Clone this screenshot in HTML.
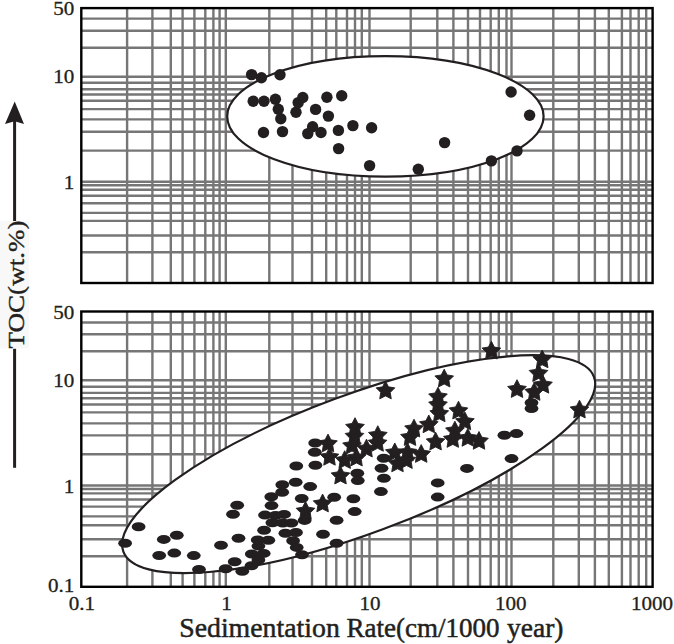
<!DOCTYPE html>
<html><head><meta charset="utf-8"><style>
html,body{margin:0;padding:0;background:#fff;}
body{width:674px;height:644px;overflow:hidden;position:relative;}
svg{position:absolute;left:0;top:0;}
.t{font-family:"Liberation Serif",serif;font-size:19.7px;fill:#231f20;stroke:#231f20;stroke-width:0.3px;}
.xt{font-family:"Liberation Serif",serif;font-size:27.5px;fill:#231f20;}
</style></head><body>
<svg width="674" height="644" viewBox="0 0 674 644">
<rect width="674" height="644" fill="#fff"/>
<g stroke="#767676" stroke-width="2.4"><line x1="127.1" y1="8.1" x2="127.1" y2="283"/><line x1="152.4" y1="8.1" x2="152.4" y2="283"/><line x1="170.8" y1="8.1" x2="170.8" y2="283"/><line x1="182.6" y1="8.1" x2="182.6" y2="283"/><line x1="194.4" y1="8.1" x2="194.4" y2="283"/><line x1="205.3" y1="8.1" x2="205.3" y2="283"/><line x1="213.4" y1="8.1" x2="213.4" y2="283"/><line x1="219.6" y1="8.1" x2="219.6" y2="283"/><line x1="225.8" y1="8.1" x2="225.8" y2="283"/><line x1="269.3" y1="8.1" x2="269.3" y2="283"/><line x1="292.5" y1="8.1" x2="292.5" y2="283"/><line x1="312" y1="8.1" x2="312" y2="283"/><line x1="326.2" y1="8.1" x2="326.2" y2="283"/><line x1="336.3" y1="8.1" x2="336.3" y2="283"/><line x1="347" y1="8.1" x2="347" y2="283"/><line x1="355" y1="8.1" x2="355" y2="283"/><line x1="361.8" y1="8.1" x2="361.8" y2="283"/><line x1="369.5" y1="8.1" x2="369.5" y2="283"/><line x1="410.7" y1="8.1" x2="410.7" y2="283"/><line x1="437.3" y1="8.1" x2="437.3" y2="283"/><line x1="453.4" y1="8.1" x2="453.4" y2="283"/><line x1="468" y1="8.1" x2="468" y2="283"/><line x1="480" y1="8.1" x2="480" y2="283"/><line x1="490.7" y1="8.1" x2="490.7" y2="283"/><line x1="498.8" y1="8.1" x2="498.8" y2="283"/><line x1="506.5" y1="8.1" x2="506.5" y2="283"/><line x1="511.5" y1="8.1" x2="511.5" y2="283"/><line x1="553.3" y1="8.1" x2="553.3" y2="283"/><line x1="578.8" y1="8.1" x2="578.8" y2="283"/><line x1="594.9" y1="8.1" x2="594.9" y2="283"/><line x1="608.8" y1="8.1" x2="608.8" y2="283"/><line x1="621.9" y1="8.1" x2="621.9" y2="283"/><line x1="630.5" y1="8.1" x2="630.5" y2="283"/><line x1="638.7" y1="8.1" x2="638.7" y2="283"/><line x1="646.2" y1="8.1" x2="646.2" y2="283"/><line x1="81.3" y1="18.6" x2="652.6" y2="18.6"/><line x1="81.3" y1="30.8" x2="652.6" y2="30.8"/><line x1="81.3" y1="47.7" x2="652.6" y2="47.7"/><line x1="81.3" y1="76.8" x2="652.6" y2="76.8"/><line x1="81.3" y1="82.8" x2="652.6" y2="82.8"/><line x1="81.3" y1="89.3" x2="652.6" y2="89.3"/><line x1="81.3" y1="94.5" x2="652.6" y2="94.5"/><line x1="81.3" y1="100.8" x2="652.6" y2="100.8"/><line x1="81.3" y1="109.1" x2="652.6" y2="109.1"/><line x1="81.3" y1="119.4" x2="652.6" y2="119.4"/><line x1="81.3" y1="131.7" x2="652.6" y2="131.7"/><line x1="81.3" y1="150.6" x2="652.6" y2="150.6"/><line x1="81.3" y1="181.8" x2="652.6" y2="181.8"/><line x1="81.3" y1="185.3" x2="652.6" y2="185.3"/><line x1="81.3" y1="189.8" x2="652.6" y2="189.8"/><line x1="81.3" y1="195.8" x2="652.6" y2="195.8"/><line x1="81.3" y1="203.2" x2="652.6" y2="203.2"/><line x1="81.3" y1="212.9" x2="652.6" y2="212.9"/><line x1="81.3" y1="220.9" x2="652.6" y2="220.9"/><line x1="81.3" y1="235.5" x2="652.6" y2="235.5"/><line x1="81.3" y1="252.2" x2="652.6" y2="252.2"/></g><g stroke="#767676" stroke-width="2.4"><line x1="127.1" y1="311.5" x2="127.1" y2="586.8"/><line x1="152.4" y1="311.5" x2="152.4" y2="586.8"/><line x1="170.8" y1="311.5" x2="170.8" y2="586.8"/><line x1="182.6" y1="311.5" x2="182.6" y2="586.8"/><line x1="194.4" y1="311.5" x2="194.4" y2="586.8"/><line x1="205.3" y1="311.5" x2="205.3" y2="586.8"/><line x1="213.4" y1="311.5" x2="213.4" y2="586.8"/><line x1="219.6" y1="311.5" x2="219.6" y2="586.8"/><line x1="225.8" y1="311.5" x2="225.8" y2="586.8"/><line x1="269.3" y1="311.5" x2="269.3" y2="586.8"/><line x1="292.5" y1="311.5" x2="292.5" y2="586.8"/><line x1="312" y1="311.5" x2="312" y2="586.8"/><line x1="326.2" y1="311.5" x2="326.2" y2="586.8"/><line x1="336.3" y1="311.5" x2="336.3" y2="586.8"/><line x1="347" y1="311.5" x2="347" y2="586.8"/><line x1="355" y1="311.5" x2="355" y2="586.8"/><line x1="361.8" y1="311.5" x2="361.8" y2="586.8"/><line x1="369.5" y1="311.5" x2="369.5" y2="586.8"/><line x1="410.7" y1="311.5" x2="410.7" y2="586.8"/><line x1="437.3" y1="311.5" x2="437.3" y2="586.8"/><line x1="453.4" y1="311.5" x2="453.4" y2="586.8"/><line x1="468" y1="311.5" x2="468" y2="586.8"/><line x1="480" y1="311.5" x2="480" y2="586.8"/><line x1="490.7" y1="311.5" x2="490.7" y2="586.8"/><line x1="498.8" y1="311.5" x2="498.8" y2="586.8"/><line x1="506.5" y1="311.5" x2="506.5" y2="586.8"/><line x1="511.5" y1="311.5" x2="511.5" y2="586.8"/><line x1="553.3" y1="311.5" x2="553.3" y2="586.8"/><line x1="578.8" y1="311.5" x2="578.8" y2="586.8"/><line x1="594.9" y1="311.5" x2="594.9" y2="586.8"/><line x1="608.8" y1="311.5" x2="608.8" y2="586.8"/><line x1="621.9" y1="311.5" x2="621.9" y2="586.8"/><line x1="630.5" y1="311.5" x2="630.5" y2="586.8"/><line x1="638.7" y1="311.5" x2="638.7" y2="586.8"/><line x1="646.2" y1="311.5" x2="646.2" y2="586.8"/><line x1="81.3" y1="322.5" x2="652.6" y2="322.5"/><line x1="81.3" y1="334.3" x2="652.6" y2="334.3"/><line x1="81.3" y1="351.2" x2="652.6" y2="351.2"/><line x1="81.3" y1="380.2" x2="652.6" y2="380.2"/><line x1="81.3" y1="386.7" x2="652.6" y2="386.7"/><line x1="81.3" y1="392.9" x2="652.6" y2="392.9"/><line x1="81.3" y1="398.3" x2="652.6" y2="398.3"/><line x1="81.3" y1="404.5" x2="652.6" y2="404.5"/><line x1="81.3" y1="412.4" x2="652.6" y2="412.4"/><line x1="81.3" y1="423.4" x2="652.6" y2="423.4"/><line x1="81.3" y1="435.4" x2="652.6" y2="435.4"/><line x1="81.3" y1="454.2" x2="652.6" y2="454.2"/><line x1="81.3" y1="485.5" x2="652.6" y2="485.5"/><line x1="81.3" y1="489" x2="652.6" y2="489"/><line x1="81.3" y1="493.4" x2="652.6" y2="493.4"/><line x1="81.3" y1="499.5" x2="652.6" y2="499.5"/><line x1="81.3" y1="506.6" x2="652.6" y2="506.6"/><line x1="81.3" y1="516.4" x2="652.6" y2="516.4"/><line x1="81.3" y1="525.2" x2="652.6" y2="525.2"/><line x1="81.3" y1="539.2" x2="652.6" y2="539.2"/><line x1="81.3" y1="556.2" x2="652.6" y2="556.2"/></g><ellipse cx="385.4" cy="116.4" rx="158.2" ry="60.2" fill="#fff" stroke="#231f20" stroke-width="2.2"/><ellipse cx="0" cy="0" rx="251" ry="69.45" fill="#fff" stroke="#231f20" stroke-width="2.2" transform="translate(358.66 464.19) rotate(-20.37)"/><rect x="81.3" y="8.1" width="571.3" height="274.9" fill="none" stroke="#000" stroke-width="2.4"/><rect x="81.3" y="311.5" width="571.3" height="275.3" fill="none" stroke="#000" stroke-width="2.4"/><g fill="#231f20"><circle cx="251.6" cy="74.6" r="5.7"/><circle cx="261.4" cy="77.7" r="5.7"/><circle cx="280.0" cy="74.7" r="5.7"/><circle cx="253.2" cy="101.2" r="5.7"/><circle cx="264.0" cy="101.2" r="5.7"/><circle cx="275.4" cy="99.3" r="5.7"/><circle cx="278.3" cy="109.2" r="5.7"/><circle cx="280.8" cy="118.8" r="5.7"/><circle cx="263.5" cy="132.5" r="5.7"/><circle cx="282.5" cy="131.6" r="5.7"/><circle cx="296.0" cy="112.3" r="5.7"/><circle cx="298.2" cy="102.6" r="5.7"/><circle cx="302.8" cy="97.5" r="5.7"/><circle cx="315.6" cy="109.4" r="5.7"/><circle cx="326.9" cy="97.2" r="5.7"/><circle cx="341.7" cy="95.8" r="5.7"/><circle cx="328.4" cy="116.1" r="5.7"/><circle cx="312.6" cy="126.8" r="5.7"/><circle cx="307.8" cy="133.6" r="5.7"/><circle cx="321.0" cy="132.5" r="5.7"/><circle cx="338.4" cy="130.4" r="5.7"/><circle cx="352.9" cy="125.6" r="5.7"/><circle cx="371.6" cy="127.7" r="5.7"/><circle cx="338.6" cy="148.6" r="5.7"/><circle cx="369.6" cy="165.6" r="5.7"/><circle cx="511.1" cy="92" r="5.7"/><circle cx="529.6" cy="115.3" r="5.7"/><circle cx="444.6" cy="142.6" r="5.7"/><circle cx="517" cy="150.9" r="5.7"/><circle cx="491.4" cy="160.9" r="5.7"/><circle cx="418.3" cy="169.3" r="5.7"/></g><g fill="#231f20"><ellipse cx="125.1" cy="543.3" rx="6.9" ry="4.5"/><ellipse cx="138.6" cy="526.8" rx="6.9" ry="4.5"/><ellipse cx="163.8" cy="539.4" rx="6.9" ry="4.5"/><ellipse cx="176.8" cy="535.2" rx="6.9" ry="4.5"/><ellipse cx="159.2" cy="555.5" rx="6.9" ry="4.5"/><ellipse cx="174.3" cy="553.1" rx="6.9" ry="4.5"/><ellipse cx="193.8" cy="555.6" rx="6.9" ry="4.5"/><ellipse cx="199" cy="569.5" rx="6.9" ry="4.5"/><ellipse cx="221" cy="545.3" rx="6.9" ry="4.5"/><ellipse cx="225.7" cy="568.7" rx="6.9" ry="4.5"/><ellipse cx="234.7" cy="561.7" rx="6.9" ry="4.5"/><ellipse cx="238.5" cy="538.3" rx="6.9" ry="4.5"/><ellipse cx="237.2" cy="505.2" rx="6.9" ry="4.5"/><ellipse cx="233" cy="514.3" rx="6.9" ry="4.5"/><ellipse cx="242.3" cy="571.2" rx="6.9" ry="4.5"/><ellipse cx="251.5" cy="565.8" rx="6.9" ry="4.5"/><ellipse cx="251.8" cy="554" rx="6.9" ry="4.5"/><ellipse cx="258.4" cy="560" rx="6.9" ry="4.5"/><ellipse cx="263.7" cy="553.4" rx="6.9" ry="4.5"/><ellipse cx="258.4" cy="546.1" rx="6.9" ry="4.5"/><ellipse cx="257.7" cy="539.9" rx="6.9" ry="4.5"/><ellipse cx="268.3" cy="540.2" rx="6.9" ry="4.5"/><ellipse cx="264.1" cy="530.3" rx="6.9" ry="4.5"/><ellipse cx="265" cy="515.1" rx="6.9" ry="4.5"/><ellipse cx="272.4" cy="522.7" rx="6.9" ry="4.5"/><ellipse cx="271.5" cy="505.6" rx="6.9" ry="4.5"/><ellipse cx="271.3" cy="496.8" rx="6.9" ry="4.5"/><ellipse cx="282.2" cy="492.2" rx="6.9" ry="4.5"/><ellipse cx="282.3" cy="484.7" rx="6.9" ry="4.5"/><ellipse cx="284.1" cy="514.4" rx="6.9" ry="4.5"/><ellipse cx="275.5" cy="515.5" rx="6.9" ry="4.5"/><ellipse cx="282.8" cy="523" rx="6.9" ry="4.5"/><ellipse cx="291.4" cy="523" rx="6.9" ry="4.5"/><ellipse cx="285.4" cy="533.3" rx="6.9" ry="4.5"/><ellipse cx="296" cy="532.5" rx="6.9" ry="4.5"/><ellipse cx="293.1" cy="540.8" rx="6.9" ry="4.5"/><ellipse cx="296.7" cy="547.4" rx="6.9" ry="4.5"/><ellipse cx="302" cy="554.7" rx="6.9" ry="4.5"/><ellipse cx="301.7" cy="498.5" rx="6.9" ry="4.5"/><ellipse cx="295.7" cy="482.2" rx="6.9" ry="4.5"/><ellipse cx="296.3" cy="466" rx="6.9" ry="4.5"/><ellipse cx="310.2" cy="486.6" rx="6.9" ry="4.5"/><ellipse cx="315.2" cy="443" rx="6.9" ry="4.5"/><ellipse cx="314.8" cy="452.2" rx="6.9" ry="4.5"/><ellipse cx="315.4" cy="465.2" rx="6.9" ry="4.5"/><ellipse cx="304.6" cy="520.4" rx="6.9" ry="4.5"/><ellipse cx="323" cy="534.3" rx="6.9" ry="4.5"/><ellipse cx="334.2" cy="497.3" rx="6.9" ry="4.5"/><ellipse cx="336.6" cy="520.3" rx="6.9" ry="4.5"/><ellipse cx="336.6" cy="543.3" rx="6.9" ry="4.5"/><ellipse cx="353.4" cy="498.8" rx="6.9" ry="4.5"/><ellipse cx="354.7" cy="511.6" rx="6.9" ry="4.5"/><ellipse cx="357.3" cy="473.2" rx="6.9" ry="4.5"/><ellipse cx="357.8" cy="480.6" rx="6.9" ry="4.5"/><ellipse cx="383.7" cy="458.3" rx="6.9" ry="4.5"/><ellipse cx="381.5" cy="468.2" rx="6.9" ry="4.5"/><ellipse cx="383.9" cy="478.3" rx="6.9" ry="4.5"/><ellipse cx="380.9" cy="491.6" rx="6.9" ry="4.5"/><ellipse cx="437.7" cy="482.9" rx="6.9" ry="4.5"/><ellipse cx="437.7" cy="497.1" rx="6.9" ry="4.5"/><ellipse cx="467" cy="468.4" rx="6.9" ry="4.5"/><ellipse cx="504.4" cy="435.3" rx="6.9" ry="4.5"/><ellipse cx="516.4" cy="433.6" rx="6.9" ry="4.5"/><ellipse cx="511.5" cy="458.6" rx="6.9" ry="4.5"/><ellipse cx="531.5" cy="402.7" rx="6.9" ry="4.5"/><ellipse cx="531.5" cy="408.5" rx="6.9" ry="4.5"/></g><g fill="#231f20" stroke="#231f20" stroke-width="0.9" stroke-linejoin="round"><polygon points="491.40,341.30 494.34,347.05 500.72,348.07 496.16,352.65 497.16,359.03 491.40,356.10 485.64,359.03 486.64,352.65 482.08,348.07 488.46,347.05"/><polygon points="542.20,350.00 545.14,355.75 551.52,356.77 546.96,361.35 547.96,367.73 542.20,364.80 536.44,367.73 537.44,361.35 532.88,356.77 539.26,355.75"/><polygon points="538.50,363.70 541.44,369.45 547.82,370.47 543.26,375.05 544.26,381.43 538.50,378.50 532.74,381.43 533.74,375.05 529.18,370.47 535.56,369.45"/><polygon points="543.00,375.40 545.94,381.15 552.32,382.17 547.76,386.75 548.76,393.13 543.00,390.20 537.24,393.13 538.24,386.75 533.68,382.17 540.06,381.15"/><polygon points="517.00,379.70 519.94,385.45 526.32,386.47 521.76,391.05 522.76,397.43 517.00,394.50 511.24,397.43 512.24,391.05 507.68,386.47 514.06,385.45"/><polygon points="534.20,382.60 537.14,388.35 543.52,389.37 538.96,393.95 539.96,400.33 534.20,397.40 528.44,400.33 529.44,393.95 524.88,389.37 531.26,388.35"/><polygon points="579.50,400.20 582.44,405.95 588.82,406.97 584.26,411.55 585.26,417.93 579.50,415.00 573.74,417.93 574.74,411.55 570.18,406.97 576.56,405.95"/><polygon points="444.20,369.20 447.14,374.95 453.52,375.97 448.96,380.55 449.96,386.93 444.20,384.00 438.44,386.93 439.44,380.55 434.88,375.97 441.26,374.95"/><polygon points="438.00,387.20 440.94,392.95 447.32,393.97 442.76,398.55 443.76,404.93 438.00,402.00 432.24,404.93 433.24,398.55 428.68,393.97 435.06,392.95"/><polygon points="438.00,395.30 440.94,401.05 447.32,402.07 442.76,406.65 443.76,413.03 438.00,410.10 432.24,413.03 433.24,406.65 428.68,402.07 435.06,401.05"/><polygon points="439.30,404.00 442.24,409.75 448.62,410.77 444.06,415.35 445.06,421.73 439.30,418.80 433.54,421.73 434.54,415.35 429.98,410.77 436.36,409.75"/><polygon points="458.50,401.20 461.44,406.95 467.82,407.97 463.26,412.55 464.26,418.93 458.50,416.00 452.74,418.93 453.74,412.55 449.18,407.97 455.56,406.95"/><polygon points="464.90,412.00 467.84,417.75 474.22,418.77 469.66,423.35 470.66,429.73 464.90,426.80 459.14,429.73 460.14,423.35 455.58,418.77 461.96,417.75"/><polygon points="428.80,415.00 431.74,420.75 438.12,421.77 433.56,426.35 434.56,432.73 428.80,429.80 423.04,432.73 424.04,426.35 419.48,421.77 425.86,420.75"/><polygon points="454.90,421.20 457.84,426.95 464.22,427.97 459.66,432.55 460.66,438.93 454.90,436.00 449.14,438.93 450.14,432.55 445.58,427.97 451.96,426.95"/><polygon points="467.80,428.50 470.74,434.25 477.12,435.27 472.56,439.85 473.56,446.23 467.80,443.30 462.04,446.23 463.04,439.85 458.48,435.27 464.86,434.25"/><polygon points="479.00,431.50 481.94,437.25 488.32,438.27 483.76,442.85 484.76,449.23 479.00,446.30 473.24,449.23 474.24,442.85 469.68,438.27 476.06,437.25"/><polygon points="452.80,429.60 455.74,435.35 462.12,436.37 457.56,440.95 458.56,447.33 452.80,444.40 447.04,447.33 448.04,440.95 443.48,436.37 449.86,435.35"/><polygon points="435.60,432.20 438.54,437.95 444.92,438.97 440.36,443.55 441.36,449.93 435.60,447.00 429.84,449.93 430.84,443.55 426.28,438.97 432.66,437.95"/><polygon points="421.20,444.60 424.14,450.35 430.52,451.37 425.96,455.95 426.96,462.33 421.20,459.40 415.44,462.33 416.44,455.95 411.88,451.37 418.26,450.35"/><polygon points="414.00,419.20 416.94,424.95 423.32,425.97 418.76,430.55 419.76,436.93 414.00,434.00 408.24,436.93 409.24,430.55 404.68,425.97 411.06,424.95"/><polygon points="410.00,427.70 412.94,433.45 419.32,434.47 414.76,439.05 415.76,445.43 410.00,442.50 404.24,445.43 405.24,439.05 400.68,434.47 407.06,433.45"/><polygon points="407.50,442.70 410.44,448.45 416.82,449.47 412.26,454.05 413.26,460.43 407.50,457.50 401.74,460.43 402.74,454.05 398.18,449.47 404.56,448.45"/><polygon points="394.80,443.00 397.74,448.75 404.12,449.77 399.56,454.35 400.56,460.73 394.80,457.80 389.04,460.73 390.04,454.35 385.48,449.77 391.86,448.75"/><polygon points="406.50,450.70 409.44,456.45 415.82,457.47 411.26,462.05 412.26,468.43 406.50,465.50 400.74,468.43 401.74,462.05 397.18,457.47 403.56,456.45"/><polygon points="397.50,454.00 400.44,459.75 406.82,460.77 402.26,465.35 403.26,471.73 397.50,468.80 391.74,471.73 392.74,465.35 388.18,460.77 394.56,459.75"/><polygon points="385.50,381.10 388.44,386.85 394.82,387.87 390.26,392.45 391.26,398.83 385.50,395.90 379.74,398.83 380.74,392.45 376.18,387.87 382.56,386.85"/><polygon points="377.80,425.70 380.74,431.45 387.12,432.47 382.56,437.05 383.56,443.43 377.80,440.50 372.04,443.43 373.04,437.05 368.48,432.47 374.86,431.45"/><polygon points="377.60,433.50 380.54,439.25 386.92,440.27 382.36,444.85 383.36,451.23 377.60,448.30 371.84,451.23 372.84,444.85 368.28,440.27 374.66,439.25"/><polygon points="366.50,439.20 369.44,444.95 375.82,445.97 371.26,450.55 372.26,456.93 366.50,454.00 360.74,456.93 361.74,450.55 357.18,445.97 363.56,444.95"/><polygon points="355.00,417.70 357.94,423.45 364.32,424.47 359.76,429.05 360.76,435.43 355.00,432.50 349.24,435.43 350.24,429.05 345.68,424.47 352.06,423.45"/><polygon points="354.50,426.70 357.44,432.45 363.82,433.47 359.26,438.05 360.26,444.43 354.50,441.50 348.74,444.43 349.74,438.05 345.18,433.47 351.56,432.45"/><polygon points="352.00,436.20 354.94,441.95 361.32,442.97 356.76,447.55 357.76,453.93 352.00,451.00 346.24,453.93 347.24,447.55 342.68,442.97 349.06,441.95"/><polygon points="356.50,448.20 359.44,453.95 365.82,454.97 361.26,459.55 362.26,465.93 356.50,463.00 350.74,465.93 351.74,459.55 347.18,454.97 353.56,453.95"/><polygon points="344.70,450.70 347.64,456.45 354.02,457.47 349.46,462.05 350.46,468.43 344.70,465.50 338.94,468.43 339.94,462.05 335.38,457.47 341.76,456.45"/><polygon points="328.00,434.10 330.94,439.85 337.32,440.87 332.76,445.45 333.76,451.83 328.00,448.90 322.24,451.83 323.24,445.45 318.68,440.87 325.06,439.85"/><polygon points="329.50,447.40 332.44,453.15 338.82,454.17 334.26,458.75 335.26,465.13 329.50,462.20 323.74,465.13 324.74,458.75 320.18,454.17 326.56,453.15"/><polygon points="340.50,466.20 343.44,471.95 349.82,472.97 345.26,477.55 346.26,483.93 340.50,481.00 334.74,483.93 335.74,477.55 331.18,472.97 337.56,471.95"/><polygon points="322.60,494.10 325.54,499.85 331.92,500.87 327.36,505.45 328.36,511.83 322.60,508.90 316.84,511.83 317.84,505.45 313.28,500.87 319.66,499.85"/><polygon points="305.50,501.50 308.44,507.25 314.82,508.27 310.26,512.85 311.26,519.23 305.50,516.30 299.74,519.23 300.74,512.85 296.18,508.27 302.56,507.25"/></g><line x1="14.6" y1="118" x2="14.6" y2="221" stroke="#231f20" stroke-width="3"/><line x1="14.6" y1="348.6" x2="14.6" y2="467.8" stroke="#231f20" stroke-width="3"/><polygon points="14.7,101.4 24,124 14.7,121.3 5,124" fill="#231f20"/>
<rect x="0" y="221" width="29" height="127.5" fill="#f8f8f8"/>
<text class="xt" transform="translate(24.2 348.5) rotate(-90)" style="font-size:24px" textLength="128" lengthAdjust="spacingAndGlyphs" stroke="#231f20" stroke-width="0.4">TOC(wt.%)</text>
<text transform="translate(74.4 15.2) scale(1.07 1)" text-anchor="end" class="t">50</text><text transform="translate(74.4 83.0) scale(1.07 1)" text-anchor="end" class="t">10</text><text transform="translate(74.4 189.1) scale(1.07 1)" text-anchor="end" class="t">1</text><text transform="translate(74.4 319.0) scale(1.07 1)" text-anchor="end" class="t">50</text><text transform="translate(74.4 386.9) scale(1.07 1)" text-anchor="end" class="t">10</text><text transform="translate(74.4 492.7) scale(1.07 1)" text-anchor="end" class="t">1</text><text transform="translate(74.4 592.3) scale(1.07 1)" text-anchor="end" class="t">0.1</text><text transform="translate(81.9 610.1) scale(1.07 1)" text-anchor="middle" class="t">0.1</text><text transform="translate(226.4 610.1) scale(1.07 1)" text-anchor="middle" class="t">1</text><text transform="translate(370 610.1) scale(1.07 1)" text-anchor="middle" class="t">10</text><text transform="translate(510.7 610.1) scale(1.07 1)" text-anchor="middle" class="t">100</text><text transform="translate(652 610.1) scale(1.07 1)" text-anchor="middle" class="t">1000</text>
<g class="xt" stroke="#231f20" stroke-width="0.5"><text x="179.2" y="636.6" textLength="160.6" lengthAdjust="spacingAndGlyphs">Sedimentation</text><text x="346.5" y="636.6" textLength="153" lengthAdjust="spacingAndGlyphs">Rate(cm/1000</text><text x="507" y="636.6" textLength="56.5" lengthAdjust="spacingAndGlyphs">year)</text></g>
</svg>
</body></html>
